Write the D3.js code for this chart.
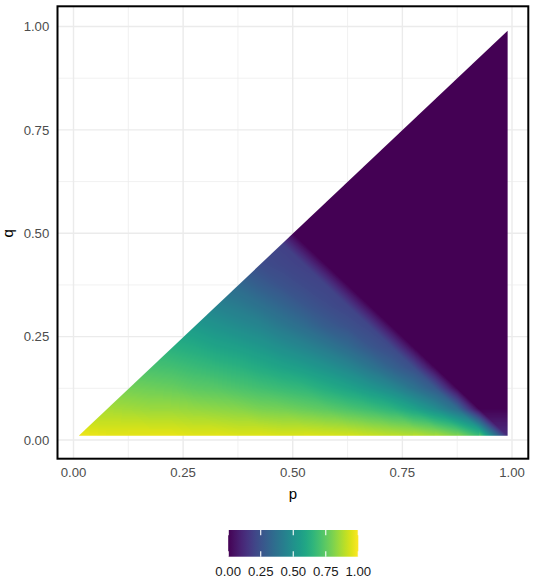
<!DOCTYPE html>
<html><head><meta charset="utf-8">
<script src="https://cdn.jsdelivr.net/npm/d3@7"></script>
<style>
body{margin:0;background:#fff;}
svg{display:block;font-family:"Liberation Sans",Arial,Helvetica,sans-serif;}
</style>
</head><body>
<svg id="chart" width="536" height="583"></svg>
<script>
// ---- data ----
const pCenters = [0.025,0.075,0.125,0.175,0.225,0.275,0.325,0.375,0.425,0.475,0.525,0.575,0.625,0.675,0.725,0.775,0.825,0.875,0.925,0.975];
const qCenters = [0.025,0.075,0.125,0.175,0.225,0.275,0.325,0.375,0.425,0.475,0.525,0.575,0.625,0.675,0.725,0.775,0.825,0.875,0.925,0.975];
// fillValues[j][i] : value at (pCenters[i], qCenters[j]); null = outside the drawn area
const fillValues = [
  [0.95,0.94,0.94,0.94,0.94,0.93,0.93,0.92,0.92,0.91,0.91,0.90,0.89,0.87,0.85,0.83,0.79,0.72,0.58,0.10],
  [0.87,0.87,0.86,0.85,0.85,0.84,0.83,0.82,0.80,0.79,0.77,0.75,0.72,0.69,0.65,0.58,0.49,0.36,0.00,0.00],
  [0.81,0.80,0.79,0.78,0.77,0.75,0.74,0.72,0.70,0.68,0.66,0.62,0.58,0.53,0.47,0.38,0.28,0.00,0.00,0.00],
  [null,0.74,0.72,0.71,0.70,0.68,0.66,0.64,0.61,0.58,0.55,0.51,0.46,0.39,0.31,0.24,0.00,0.00,0.00,0.00],
  [null,null,0.66,0.65,0.63,0.61,0.58,0.56,0.53,0.49,0.45,0.40,0.34,0.27,0.22,0.00,0.00,0.00,0.00,0.00],
  [null,null,null,0.58,0.56,0.54,0.51,0.48,0.45,0.40,0.35,0.29,0.25,0.21,0.00,0.00,0.00,0.00,0.00,0.00],
  [null,null,null,null,0.50,0.47,0.44,0.41,0.37,0.32,0.27,0.23,0.20,0.00,0.00,0.00,0.00,0.00,0.00,0.00],
  [null,null,null,null,null,0.41,0.37,0.34,0.29,0.25,0.22,0.20,0.00,0.00,0.00,0.00,0.00,0.00,0.00,0.00],
  [null,null,null,null,null,null,0.31,0.27,0.23,0.21,0.19,0.00,0.00,0.00,0.00,0.00,0.00,0.00,0.00,0.00],
  [null,null,null,null,null,null,null,0.23,0.21,0.19,0.00,0.00,0.00,0.00,0.00,0.00,0.00,0.00,0.00,0.00],
  [null,null,null,null,null,null,null,null,0.19,0.00,0.00,0.00,0.00,0.00,0.00,0.00,0.00,0.00,0.00,0.00],
  [null,null,null,null,null,null,null,null,null,0.00,0.00,0.00,0.00,0.00,0.00,0.00,0.00,0.00,0.00,0.00],
  [null,null,null,null,null,null,null,null,null,null,0.00,0.00,0.00,0.00,0.00,0.00,0.00,0.00,0.00,0.00],
  [null,null,null,null,null,null,null,null,null,null,null,0.00,0.00,0.00,0.00,0.00,0.00,0.00,0.00,0.00],
  [null,null,null,null,null,null,null,null,null,null,null,null,0.00,0.00,0.00,0.00,0.00,0.00,0.00,0.00],
  [null,null,null,null,null,null,null,null,null,null,null,null,null,0.00,0.00,0.00,0.00,0.00,0.00,0.00],
  [null,null,null,null,null,null,null,null,null,null,null,null,null,null,0.00,0.00,0.00,0.00,0.00,0.00],
  [null,null,null,null,null,null,null,null,null,null,null,null,null,null,null,0.00,0.00,0.00,0.00,0.00],
  [null,null,null,null,null,null,null,null,null,null,null,null,null,null,null,null,0.00,0.00,0.00,0.00],
  [null,null,null,null,null,null,null,null,null,null,null,null,null,null,null,null,null,0.00,0.00,0.00]
];
const triangle = [[0.012,0.01],[0.99,0.01],[0.99,0.99]];
const pTicks = [0,0.25,0.5,0.75,1];
const qTicks = [0,0.25,0.5,0.75,1];
const minorTicks = [0.125,0.375,0.625,0.875];
const legendTicks = [0,0.25,0.5,0.75,1];

// ---- layout ----
const svg = d3.select("#chart");
const panel = {left:57.5, right:528.3, top:6.3, bottom:458.7};
const x = d3.scaleLinear().domain([0,1]).range([73.5,512]);
const y = d3.scaleLinear().domain([0,1]).range([440,26.5]);
const color = d3.scaleSequential(d3.interpolateViridis).domain([0,1]);
const fmt = d3.format(".2f");

svg.append("rect").attr("width",536).attr("height",583).attr("fill","#fff");

// grid
const grid = svg.append("g");
minorTicks.forEach(t=>{
  grid.append("line").attr("x1",x(t)).attr("x2",x(t)).attr("y1",panel.top).attr("y2",panel.bottom)
    .attr("stroke","#EBEBEB").attr("stroke-width",0.7);
  grid.append("line").attr("y1",y(t)).attr("y2",y(t)).attr("x1",panel.left).attr("x2",panel.right)
    .attr("stroke","#EBEBEB").attr("stroke-width",0.7);
});
pTicks.forEach(t=>{
  grid.append("line").attr("x1",x(t)).attr("x2",x(t)).attr("y1",panel.top).attr("y2",panel.bottom)
    .attr("stroke","#EBEBEB").attr("stroke-width",1.4);
});
qTicks.forEach(t=>{
  grid.append("line").attr("y1",y(t)).attr("y2",y(t)).attr("x1",panel.left).attr("x2",panel.right)
    .attr("stroke","#EBEBEB").attr("stroke-width",1.4);
});

// raster: the read grid rendered as a smooth (interpolated) raster image
const defs = svg.append("defs");
defs.append("clipPath").attr("id","tri").append("polygon")
  .attr("points", triangle.map(d=>[x(d[0]),y(d[1])].join(",")).join(" "));

const nI = pCenters.length, nJ = qCenters.length;
const dp = pCenters[1]-pCenters[0], dq = qCenters[1]-qCenters[0];
const px0 = Math.floor(x(triangle[0][0]))-1, px1 = Math.ceil(x(triangle[1][0]))+1;
const py0 = Math.floor(y(triangle[2][1]))-1, py1 = Math.ceil(y(triangle[0][1]))+1;
const cw = px1-px0, ch = py1-py0;
const lut = d3.range(256).map(k=>d3.rgb(color(k/255)));
const canvas = document.createElement("canvas");
canvas.width = cw; canvas.height = ch;
const ctx = canvas.getContext("2d");
const img = ctx.createImageData(cw, ch);
const V = (i,j)=> fillValues[j][i];
for(let r=0;r<ch;r++){
  const q = y.invert(py0+r+0.5);
  const v = (q-qCenters[0])/dq;
  const j = Math.max(0, Math.min(nJ-2, Math.floor(v)));
  const fv = v-j;
  for(let c=0;c<cw;c++){
    const p = x.invert(px0+c+0.5);
    const u = (p-pCenters[0])/dp;
    const i = Math.max(0, Math.min(nI-2, Math.floor(u)));
    const fu = u-i;
    const a00=V(i,j), a10=V(i+1,j), a01=V(i,j+1), a11=V(i+1,j+1);
    let val;
    if(fu+fv<=1){
      if(a00===null||a10===null||a01===null) continue;
      val = a00 + fu*(a10-a00) + fv*(a01-a00);
    } else {
      if(a11===null||a10===null||a01===null) continue;
      val = a11 + (1-fu)*(a01-a11) + (1-fv)*(a10-a11);
    }
    val = Math.max(0, Math.min(1, val));
    const col = lut[Math.round(val*255)];
    const k = (r*cw+c)*4;
    img.data[k]=col.r; img.data[k+1]=col.g; img.data[k+2]=col.b; img.data[k+3]=255;
  }
}
ctx.putImageData(img,0,0);
svg.append("g").attr("clip-path","url(#tri)")
  .append("image")
  .attr("href", canvas.toDataURL("image/png"))
  .attr("x", px0).attr("y", py0)
  .attr("width", cw).attr("height", ch)
  .attr("preserveAspectRatio","none");

// panel border
svg.append("rect").attr("x",panel.left).attr("y",panel.top)
  .attr("width",panel.right-panel.left).attr("height",panel.bottom-panel.top)
  .attr("fill","none").attr("stroke","#000").attr("stroke-width",2);

// axis labels
svg.append("g").selectAll("text").data(pTicks).join("text")
  .attr("x",d=>x(d)).attr("y",477).attr("text-anchor","middle")
  .attr("font-size",13.2).attr("fill","#4D4D4D").text(fmt);
svg.append("g").selectAll("text").data(qTicks).join("text")
  .attr("x",49.3).attr("y",d=>y(d)+4.7).attr("text-anchor","end")
  .attr("font-size",13.2).attr("fill","#4D4D4D").text(fmt);

svg.append("text").attr("x",292.8).attr("y",498.5).attr("text-anchor","middle")
  .attr("font-size",15).attr("fill","#000").text("p");
svg.append("text").attr("transform","translate(12.5,"+y(0.5)+") rotate(-90)")
  .attr("text-anchor","middle").attr("font-size",15).attr("fill","#000").text("q");

// legend
const lx = d3.scaleLinear().domain([0,1]).range([228.2,358.3]);
const legTop = 530, legH = 26.7;
const grad = defs.append("linearGradient").attr("id","vir").attr("x1","0%").attr("x2","100%").attr("y1","0%").attr("y2","0%");
d3.range(0,1.0001,0.05).forEach(t=>{
  grad.append("stop").attr("offset",(t*100)+"%").attr("stop-color",color(t));
});
svg.append("rect").attr("x",lx(0)).attr("y",legTop).attr("width",lx(1)-lx(0)).attr("height",legH)
  .attr("fill","url(#vir)");
const lt = svg.append("g");
legendTicks.forEach(t=>{
  lt.append("line").attr("x1",lx(t)).attr("x2",lx(t)).attr("y1",legTop).attr("y2",legTop+legH/5)
    .attr("stroke","#fff").attr("stroke-width",1.1);
  lt.append("line").attr("x1",lx(t)).attr("x2",lx(t)).attr("y1",legTop+legH-legH/5).attr("y2",legTop+legH)
    .attr("stroke","#fff").attr("stroke-width",1.1);
});
svg.append("g").selectAll("text").data(legendTicks).join("text")
  .attr("x",d=>lx(d)).attr("y",576).attr("text-anchor","middle")
  .attr("font-size",13.2).attr("fill","#1A1A1A").text(fmt);
</script>
</body></html>
